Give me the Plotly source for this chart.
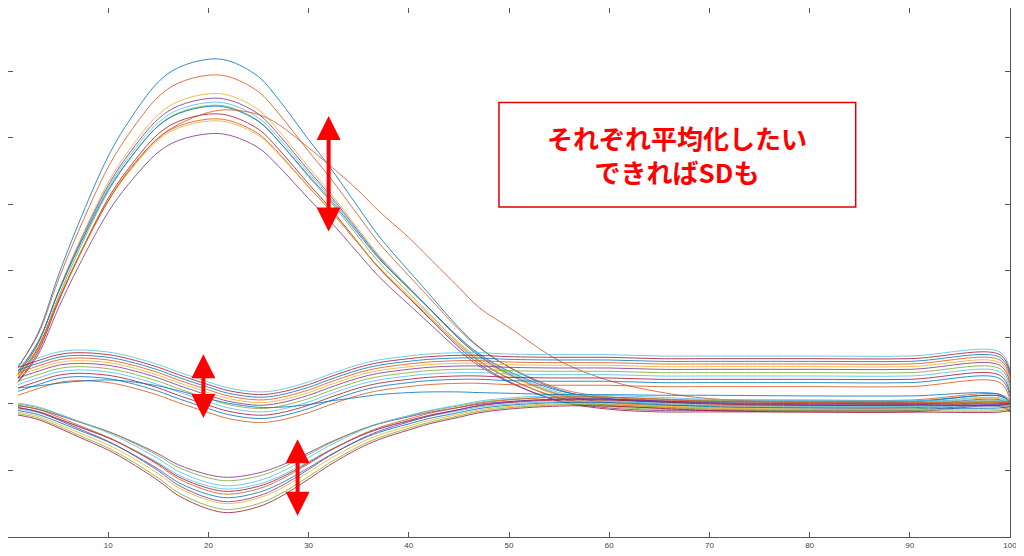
import plotly.graph_objects as go

# sample points along the x axis
x_vals = [1, 3, 5, 7, 10, 12, 15, 17, 20, 22, 25, 27, 30, 32, 35, 37, 40, 42,
          45, 47, 50, 55, 60, 65, 70, 80, 90, 99, 100]

# big bundle: typical curve, per-line amplitude and offset
top_base = [2.44, 2.89, 3.64, 4.32, 5.22, 5.67, 6.20, 6.39, 6.50, 6.48, 6.27, 5.97,
            5.44, 5.10, 4.54, 4.17, 3.71, 3.41, 2.96, 2.71, 2.44, 2.14, 2.02, 1.98,
            1.98, 1.98, 1.98, 2.06, 1.98]
top_amp = [1.14, 1.08, 1.04, 1.02, 1.01, 1.0, 0.99, 0.98, 0.96, 0.94, 0.92]
top_off = [0.05, 0.08, -0.02, 0.0, -0.06, 0.03, -0.1, 0.06, -0.04, 0.02, -0.08]
top_slow = [2.40, 2.85, 3.55, 4.20, 5.05, 5.50, 6.00, 6.20, 6.38, 6.42, 6.35, 6.20,
            5.85, 5.60, 5.20, 4.90, 4.50, 4.20, 3.75, 3.45, 3.15, 2.65, 2.35, 2.18,
            2.08, 2.02, 2.00, 2.03, 2.00]

# middle bundle
mid_base = [2.59, 2.69, 2.78, 2.81, 2.78, 2.72, 2.59, 2.48, 2.33, 2.24, 2.18, 2.21,
            2.33, 2.44, 2.59, 2.66, 2.72, 2.75, 2.77, 2.77, 2.75, 2.74, 2.74, 2.72,
            2.72, 2.72, 2.72, 2.78, 2.51]
mid_off = [0.0, -0.04, -0.08, -0.12, -0.16, -0.2, -0.25, -0.3, -0.35, -0.4, -0.46]
mid_low = [2.24, 2.27, 2.31, 2.34, 2.36, 2.34, 2.27, 2.20, 2.08, 2.01, 1.95, 1.95,
           1.99, 2.04, 2.10, 2.14, 2.17, 2.18, 2.18, 2.17, 2.16, 2.14, 2.14, 2.13,
           2.13, 2.12, 2.12, 2.14, 2.02]

# bottom bundle
bot_base = [1.94, 1.88, 1.77, 1.65, 1.47, 1.32, 1.06, 0.86, 0.68, 0.63, 0.71, 0.83,
            1.08, 1.26, 1.49, 1.61, 1.74, 1.82, 1.91, 1.97, 2.02, 2.06, 2.06, 2.03,
            2.00, 1.98, 1.98, 1.98, 2.00]
bot_amp = [0.82, 0.88, 0.92, 0.96, 1.0, 1.02, 1.05, 1.08, 1.1, 0.95, 1.12]
bot_off = [0.02, 0.05, -0.02, 0.0, -0.04, 0.04, -0.06, 0.01, -0.08, 0.07, -0.1]

colors = ['#0072BD', '#D95319', '#EDB120', '#7E2F8E', '#77AC30', '#4DBEEE', '#A2142F']

fig = go.Figure()
n = 0


def add_line(y, color=None):
    global n
    fig.add_trace(go.Scatter(x=x_vals, y=y, mode='lines', line_shape='spline',
                             line=dict(color=color or colors[n % 7], width=1),
                             opacity=0.8, showlegend=False, hoverinfo='skip'))
    n += 1


for k, o in zip(top_amp, top_off):
    add_line([2 + (v - 2) * k + o for v in top_base])
add_line(top_slow, '#D95319')
for o in mid_off:
    add_line([v + o for v in mid_base])
add_line(mid_low, '#0072BD')
for k, o in zip(bot_amp, bot_off):
    add_line([2 + (v - 2) * k + o for v in bot_base])

# red double arrows
arrows = [(32.0, 6.35, 4.59), (19.5, 2.77, 1.79), (28.9, 1.49, 0.32)]
for ax_x, y1, y2 in arrows:
    fig.add_annotation(x=ax_x, y=y2, ax=ax_x, ay=y1, xref='x', yref='y',
                       axref='x', ayref='y', text='', showarrow=True,
                       arrowhead=2, arrowside='end+start', arrowsize=1.2,
                       arrowwidth=4, arrowcolor='#FF0000')

fig.add_shape(type='rect', xref='x', yref='y',
              x0=49.0, x1=84.6, y0=4.96, y1=6.53,
              line=dict(color='#E00000', width=1.5), fillcolor='white', layer='below')
fig.add_annotation(xref='x', yref='y', x=66.8, y=5.75, showarrow=False,
                   xanchor='center', yanchor='middle',
                   text='<b>それぞれ平均化したい<br>できればSDも</b>',
                   font=dict(family='Noto Sans CJK JP', size=26, color='#FF0000'))

fig.update_layout(
    width=1016, height=548, plot_bgcolor='white', paper_bgcolor='white',
    margin=dict(l=0, r=14, t=0, b=19),
    xaxis=dict(range=[0, 100], tickvals=[0, 10, 20, 30, 40, 50, 60, 70, 80, 90, 100],
               ticks='inside', ticklen=5, tickcolor='#555', showline=True,
               linecolor='#555', mirror='ticks', showgrid=False, zeroline=False,
               tickfont=dict(size=8, color='#444', family='Liberation Sans')),
    yaxis=dict(range=[0, 7.95], tickvals=[1, 2, 3, 4, 5, 6, 7], showticklabels=False,
               ticks='inside', ticklen=5, tickcolor='#555', showline=True,
               linecolor='#555', mirror='ticks', showgrid=False, zeroline=False),
)

fig.write_html("out.html")
